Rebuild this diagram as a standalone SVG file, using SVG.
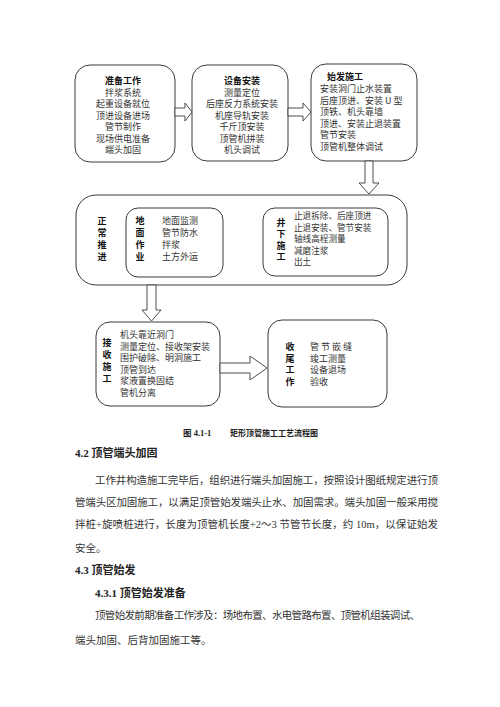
<svg xmlns="http://www.w3.org/2000/svg" width="500" height="707" viewBox="0 0 500 707">
<style>
.box{fill:#fff;stroke:#3a3a3a;stroke-width:1}
.arr{fill:#fff;stroke:#3a3a3a;stroke-width:0.9;stroke-linejoin:miter}
.t{font-family:"Noto Sans CJK SC","Liberation Sans",sans-serif;font-size:9px;fill:#333}
.b{font-family:"Noto Sans CJK SC","Liberation Sans",sans-serif;font-size:9px;font-weight:bold;fill:#111}
.c{text-anchor:middle}
.p{font-family:"Liberation Serif","Noto Sans CJK SC",serif;font-size:10.5px;fill:#333}
.h{font-family:"Liberation Serif","Noto Sans CJK SC",serif;font-size:11px;font-weight:bold;fill:#222}
</style>
<rect width="500" height="707" fill="#fff"/>

<g id="node-prepare">
<rect class="box" x="75" y="65" width="100" height="97" rx="15"/>
<text class="b c" x="123" y="84">准备工作</text>
<text class="t c" x="123" y="95.5">拌浆系统</text>
<text class="t c" x="123" y="107">起重设备就位</text>
<text class="t c" x="123" y="118.5">顶进设备进场</text>
<text class="t c" x="123" y="130">管节制作</text>
<text class="t c" x="123" y="141.5">现场供电准备</text>
<text class="t c" x="123" y="153">端头加固</text>
</g>

<g id="node-install">
<rect class="box" x="192" y="65" width="96" height="96" rx="15"/>
<text class="b c" x="242" y="84">设备安装</text>
<text class="t c" x="242" y="95.5">测量定位</text>
<text class="t c" x="242" y="107">后座反力系统安装</text>
<text class="t c" x="242" y="118.5">机座导轨安装</text>
<text class="t c" x="242" y="130">千斤顶安装</text>
<text class="t c" x="242" y="141.5">顶管机拼装</text>
<text class="t c" x="242" y="153">机头调试</text>
</g>

<g id="node-launch">
<rect class="box" x="311" y="64" width="106" height="97" rx="15"/>
<text class="b" x="327" y="80">始发施工</text>
<text class="t" x="320" y="92">安装洞门止水装置</text>
<text class="t" x="320" y="103.5">后座顶进、安装 U 型</text>
<text class="t" x="320" y="115">顶铁、机头靠墙</text>
<text class="t" x="320" y="126.5">顶进、安装止退装置</text>
<text class="t" x="320" y="138">管节安装</text>
<text class="t" x="320" y="149.5">顶管机整体调试</text>
</g>

<g id="node-normal">
<rect class="box" x="76" y="195" width="331" height="90" rx="20"/>
<text class="b c" x="102" y="224">正</text>
<text class="b c" x="102" y="236">常</text>
<text class="b c" x="102" y="248">推</text>
<text class="b c" x="102" y="260">进</text>
</g>

<g id="node-ground">
<rect class="box" x="126" y="208" width="97" height="69" rx="12"/>
<text class="b c" x="140" y="224">地</text>
<text class="b c" x="140" y="236">面</text>
<text class="b c" x="140" y="248">作</text>
<text class="b c" x="140" y="260">业</text>
<text class="t" x="162" y="223.5">地面监测</text>
<text class="t" x="162" y="235.5">管节防水</text>
<text class="t" x="162" y="247.5">拌浆</text>
<text class="t" x="162" y="259.5">土方外运</text>
</g>

<g id="node-underground">
<rect class="box" x="263" y="208" width="125" height="68" rx="12"/>
<text class="b c" x="281" y="225.5">井</text>
<text class="b c" x="281" y="237">下</text>
<text class="b c" x="281" y="248.5">施</text>
<text class="b c" x="281" y="260">工</text>
<text class="t" x="294" y="219" style="font-size:8.6px">止退拆除、后座顶进</text>
<text class="t" x="294" y="230.5" style="font-size:8.6px">止退安装、管节安装</text>
<text class="t" x="294" y="242" style="font-size:8.6px">轴线高程测量</text>
<text class="t" x="294" y="253.5" style="font-size:8.6px">减磨注浆</text>
<text class="t" x="294" y="265" style="font-size:8.6px">出土</text>
</g>

<g id="node-receive">
<rect class="box" x="96" y="322" width="124" height="84" rx="14"/>
<text class="b c" x="107" y="346">接</text>
<text class="b c" x="107" y="358">收</text>
<text class="b c" x="107" y="370">施</text>
<text class="b c" x="107" y="382">工</text>
<text class="t" x="120" y="338">机头靠近洞门</text>
<text class="t" x="120" y="349.5">测量定位、接收架安装</text>
<text class="t" x="120" y="361">围护破除、明洞施工</text>
<text class="t" x="120" y="372.5">顶管到达</text>
<text class="t" x="120" y="384">浆液置换固结</text>
<text class="t" x="120" y="395.5">管机分离</text>
</g>

<g id="node-finish">
<rect class="box" x="268" y="320" width="119" height="87" rx="14"/>
<text class="b c" x="290" y="350">收</text>
<text class="b c" x="290" y="361.5">尾</text>
<text class="b c" x="290" y="373">工</text>
<text class="b c" x="290" y="384.5">作</text>
<text class="t" x="310" y="350" letter-spacing="2">管节嵌缝</text>
<text class="t" x="310" y="361.5">竣工测量</text>
<text class="t" x="310" y="373">设备退场</text>
<text class="t" x="310" y="384.5">验收</text>
</g>

<g id="connectors">
<polygon class="arr" points="175,108 185,108 185,103 192,112 185,121 185,116 175,116"/>
<polygon class="arr" points="288,108 303,108 303,103 311,112 303,121 303,116 288,116"/>
<polygon class="arr" points="365,161 373,161 373,183 379,183 369,194 359,183 365,183"/>
<polygon class="arr" points="147,285 156,285 156,310 161,310 151.5,321 142,310 147,310"/>
<polygon class="arr" points="220,363 250,363 250,356 267,368 250,380 250,373 220,373"/>
</g>

<g id="caption">
<text class="h" x="183" y="436" style="font-size:8.5px">图 4.1-1</text>
<text class="h" x="230" y="436" style="font-size:8.5px" textLength="88" lengthAdjust="spacingAndGlyphs">矩形顶管施工工艺流程图</text>
</g>

<g id="body-text">
<text class="h" x="75" y="457">4.2 顶管端头加固</text>
<text class="p" x="95" y="484" textLength="343" lengthAdjust="spacing">工作井构造施工完毕后，组织进行端头加固施工，按照设计图纸规定进行顶</text>
<text class="p" x="75" y="505.5" textLength="363" lengthAdjust="spacing">管端头区加固施工，以满足顶管始发端头止水、加固需求。端头加固一般采用搅</text>
<text class="p" x="75" y="527.5" textLength="363" lengthAdjust="spacing">拌桩+旋喷桩进行，长度为顶管机长度+2～3 节管节长度，约 10m，以保证始发</text>
<text class="p" x="75" y="551.5">安全。</text>
<text class="h" x="75" y="573.5">4.3 顶管始发</text>
<text class="h" x="95" y="597">4.3.1 顶管始发准备</text>
<text class="p" x="95" y="619" textLength="325" lengthAdjust="spacing">顶管始发前期准备工作涉及：场地布置、水电管路布置、顶管机组装调试、</text>
<text class="p" x="75" y="643.5">端头加固、后背加固施工等。</text>
</g>
</svg>
